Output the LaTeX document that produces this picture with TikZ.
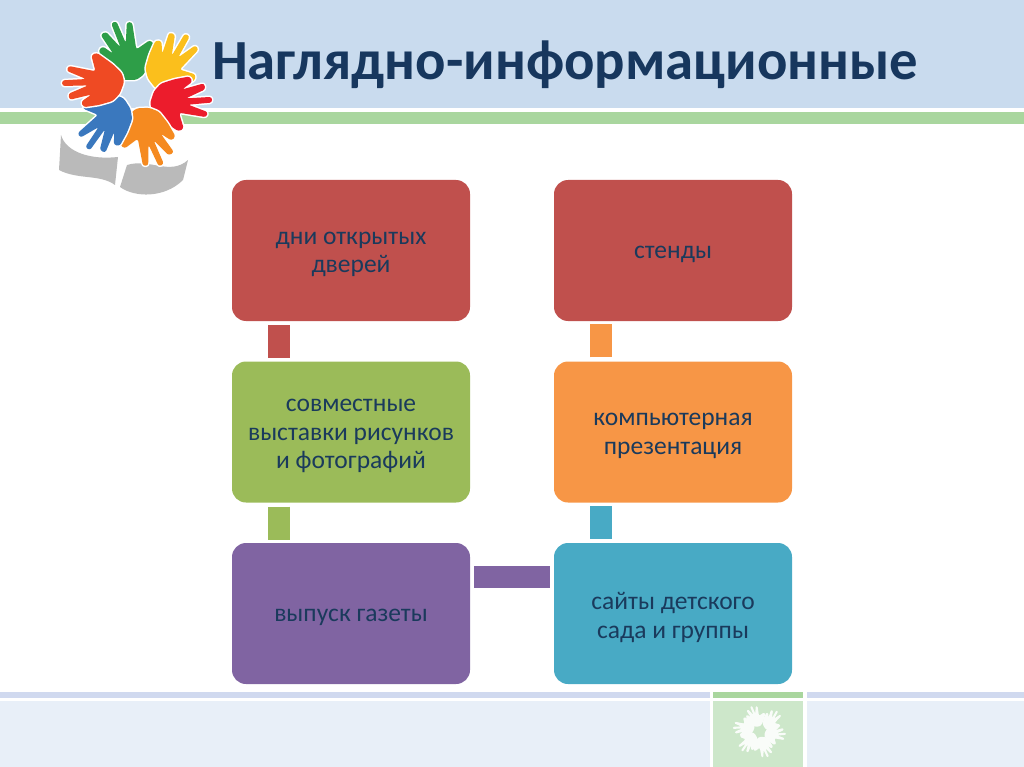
\documentclass[tikz,border=0pt]{standalone}
\usepackage{fontspec}
\setmainfont{Carlito}
\definecolor{boxred}{HTML}{C0504D}
\definecolor{boxgreen}{HTML}{9BBB59}
\definecolor{boxviolet}{HTML}{8064A2}
\definecolor{boxteal}{HTML}{48AAC5}
\definecolor{boxorange}{HTML}{F79646}
\definecolor{titleblue}{HTML}{17375E}
\definecolor{textblue}{HTML}{1A3A5C}
\definecolor{headblue}{HTML}{C9DBEE}
\definecolor{stripegreen}{HTML}{A9D69E}
\definecolor{footbar}{HTML}{D0D9EF}
\definecolor{footpanel}{HTML}{E8EFF8}
\definecolor{footgreen}{HTML}{CDE7CA}
\definecolor{handgreen}{HTML}{2E9E48}
\definecolor{handyellow}{HTML}{FBBF1C}
\definecolor{handred}{HTML}{EC1C2C}
\definecolor{handorange}{HTML}{F58A20}
\definecolor{handblue}{HTML}{3A78BE}
\definecolor{handscarlet}{HTML}{EF4A23}
\newcommand{\handpath}{(-6,-1) -- (-15,-5) -- (-23,-16) -- (-30,-29) -- (-26,-33) -- (-16,-26)
	-- (-28,-44) -- (-23,-47) -- (-9,-32) -- (-18,-55) -- (-13,-57) -- (-4,-36)
	-- (-3,-56) -- (2,-56) -- (6,-30) -- (19,-39) -- (23,-35) -- (18,-17) -- (13,-6) -- (6,-1) -- cycle}
\newcommand{\handmark}[4]{% x, y, rotation, colour
	\begin{scope}[shift={(#1,#2)}, rotate=#3, scale=1.05]
		\fill[#4, draw=white, line width=3pt, line join=round, rounded corners=2.5pt] \handpath;
		\fill[#4, rounded corners=2.5pt] \handpath;
	\end{scope}
}
\tikzset{
	infobox/.style={rounded corners=14pt, minimum width=238pt, minimum height=141pt, inner sep=0pt},
	boxtext/.style={yshift=-4pt, inner sep=0pt, align=center, text=textblue, font=\fontsize{25.5}{28.5}\selectfont},
	uplink/.style={line width=22pt, shorten <=4pt, shorten >=3pt},
}
\begin{document}
\begin{tikzpicture}[x=1pt, y=-1pt]
	\useasboundingbox (0,0) rectangle (1024,767);
	\fill[headblue] (0,0) rectangle (1024,108);
	\fill[stripegreen] (0,112.5) rectangle (1024,124);
	\fill[footbar] (0,692) rectangle (710,698);
	\fill[footbar] (807,692) rectangle (1024,698);
	\fill[stripegreen] (713,692) rectangle (803,698);
	\fill[footpanel] (0,701) rectangle (710,767);
	\fill[footpanel] (807,701) rectangle (1024,767);
	\fill[footgreen] (713,701) rectangle (803,767);

	\fill[black!27] (61,135) .. controls (66,152) and (90,160) .. (118,157) -- (115,185)
		.. controls (100,174) and (78,180) .. (59,170) -- cycle;
	\fill[black!27] (188,160) .. controls (170,176) and (150,158) .. (127,165) -- (120,187)
		.. controls (135,198) and (165,198) .. (183,180) -- cycle;

	\handmark{130}{81}{0}{handgreen}
	\handmark{151}{84}{-52}{handyellow}
	\handmark{151}{97}{-108}{handred}
	\handmark{143}{107}{-178}{handorange}
	\handmark{128}{103}{123}{handblue}
	\handmark{123}{88}{70}{handscarlet}

	\foreach \hx/\hy/\hr in {-6/-11/0, 15/-8/-52, 15/5/-108, 7/15/-178, -8/11/123, -13/-4/70}
		\fill[white!88!footgreen, rounded corners=1pt, shift={(759+.37*\hx,731+.37*\hy)}, rotate=\hr, scale=.37] \handpath;

	\node[anchor=base west, inner sep=0pt, text=titleblue, font=\fontsize{56.7}{60}\selectfont\bfseries] (title) at (212,80) {Наглядно-информационные};

	\node[infobox, fill=boxred, label={[boxtext]center:{дни открытых\\дверей}}] (dni) at (351,250.5) {};
	\node[infobox, fill=boxgreen, label={[boxtext]center:{совместные\\выставки рисунков\\и фотографий}}] (sovm) at (351,432) {};
	\node[infobox, fill=boxviolet, label={[boxtext]center:{выпуск газеты}}] (gazeta) at (351,613.5) {};
	\node[infobox, fill=boxred, label={[boxtext]center:{стенды}}] (stendy) at (673,250.5) {};
	\node[infobox, fill=boxorange, label={[boxtext]center:{компьютерная\\презентация}}] (prez) at (673,432) {};
	\node[infobox, fill=boxteal, label={[boxtext]center:{сайты детского\\сада и группы}}] (saity) at (673,613.5) {};

	\draw[uplink, boxred] ([xshift=-72pt]dni.south) -- ([xshift=-72pt]sovm.north);
	\draw[uplink, boxgreen] ([xshift=-72pt]sovm.south) -- ([xshift=-72pt]gazeta.north);
	\draw[uplink, boxviolet, shorten >=4pt] ([yshift=37pt]gazeta.east) -- ([yshift=37pt]saity.west);
	\draw[uplink, boxteal] ([xshift=-72pt]saity.north) -- ([xshift=-72pt]prez.south);
	\draw[uplink, boxorange] ([xshift=-72pt]prez.north) -- ([xshift=-72pt]stendy.south);
\end{tikzpicture}
\end{document}
